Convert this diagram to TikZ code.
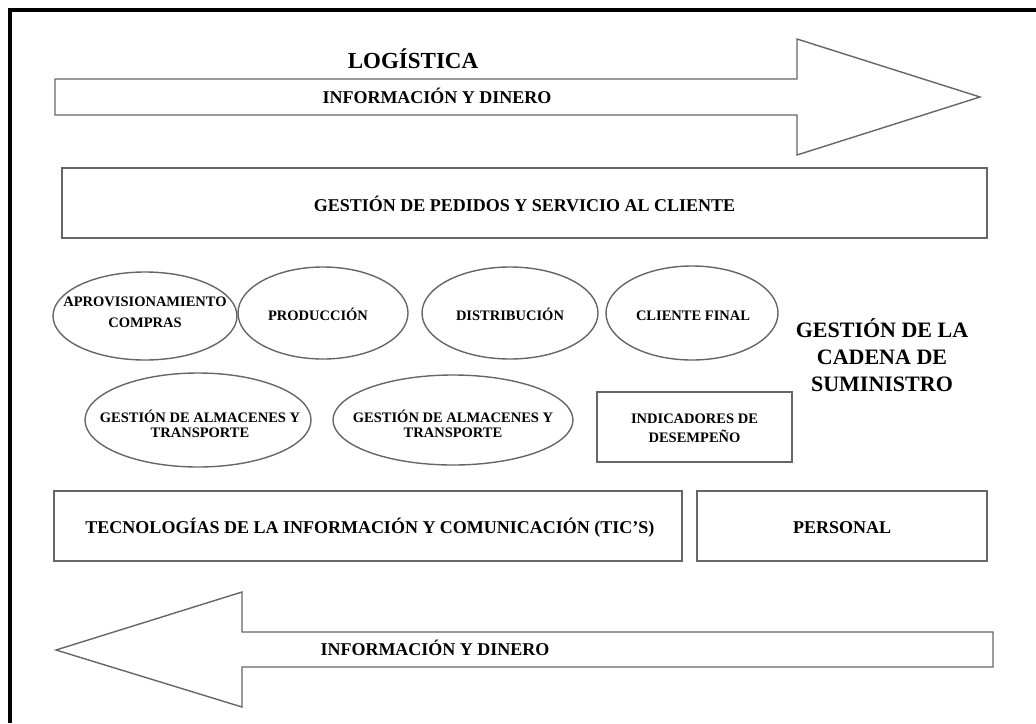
\documentclass[tikz,border=0pt]{standalone}
\usepackage{fontspec}
\setmainfont{Liberation Serif}
\usetikzlibrary{shapes.geometric}

\tikzset{
  linea/.style={draw=black!60, line width=1.4pt},
  flecha/.style={linea, fill=white, line join=miter},
  caja/.style={linea, rectangle, inner sep=0pt},
  elipse/.style={linea, ellipse, inner sep=0pt},
  rotulo/.style={font=\bfseries\fontsize{18}{22}\selectfont},
  texto/.style={align=center, inner sep=0pt, font=\bfseries\fontsize{14.5}{#1}\selectfont},
  texto/.default=17,
}

\begin{document}
\begin{tikzpicture}[x=1pt,y=-1pt]
\useasboundingbox (0,0) rectangle (1036,723);
\draw[line width=4pt] (10,723) -- (10,10) -- (1036,10);

% flecha de arriba
\draw[flecha] (55,79) -- (797,79) -- (797,39) -- (980,97) -- (797,155) -- (797,115) -- (55,115) -- cycle;
\node[font=\bfseries\fontsize{23}{27}\selectfont, anchor=base] (logistica) at (413,68) {LOGÍSTICA};
\node[rotulo, anchor=base] (info1) at (437,103) {INFORMACIÓN Y DINERO};

\node[caja, minimum width=925pt, minimum height=70pt] (pedidos) at (524.5,203) {};
\node[rotulo, anchor=base] (pedidost) at (524.5,211) {GESTIÓN DE PEDIDOS Y SERVICIO AL CLIENTE};

% primera fila
\node[elipse, minimum width=184pt, minimum height=88pt] (aprov) at (145,316) {};
\node[texto=21] (aprovt) at (145,312) {APROVISIONAMIENTO\\COMPRAS};
\node[elipse, minimum width=170pt, minimum height=92pt] (prod) at (323,313) {};
\node[texto, anchor=base] (prodt) at (318,320) {PRODUCCIÓN};
\node[elipse, minimum width=176pt, minimum height=92pt] (dist) at (510,313) {};
\node[texto, anchor=base] (distt) at (510,320) {DISTRIBUCIÓN};
\node[elipse, minimum width=172pt, minimum height=94pt] (cliente) at (692,313) {};
\node[texto, anchor=base] (clientet) at (693,320) {CLIENTE FINAL};

\node[align=center, font=\bfseries\fontsize{22}{27}\selectfont] (gcs) at (882,355) {GESTIÓN DE LA\\CADENA DE\\SUMINISTRO};

% segunda fila
\node[elipse, minimum width=226pt, minimum height=94pt] (alm1) at (198,420) {};
\node[texto=15.5] (alm1t) at (200,424) {GESTIÓN DE ALMACENES Y\\TRANSPORTE};
\node[elipse, minimum width=240pt, minimum height=90pt] (alm2) at (453,420) {};
\node[texto=15.5] (alm2t) at (453,424) {GESTIÓN DE ALMACENES Y\\TRANSPORTE};
\node[caja, minimum width=195pt, minimum height=70pt] (indic) at (694.5,427) {};
\node[texto=19] (indict) at (694.5,428) {INDICADORES DE\\DESEMPEÑO};

% tercera fila
\node[caja, minimum width=628pt, minimum height=70pt] (tic) at (368,526) {};
\node[rotulo, anchor=base] (tict) at (370,533) {TECNOLOGÍAS DE LA INFORMACIÓN Y COMUNICACIÓN (TIC'S)};
\node[caja, minimum width=290pt, minimum height=70pt] (personal) at (842,526) {};
\node[rotulo, anchor=base] (personalt) at (842,533) {PERSONAL};

% flecha de abajo
\draw[flecha] (993,632) -- (242,632) -- (242,592) -- (56,650) -- (242,707) -- (242,667) -- (993,667) -- cycle;
\node[rotulo, anchor=base] (info2) at (435,655) {INFORMACIÓN Y DINERO};
\end{tikzpicture}
\end{document}
